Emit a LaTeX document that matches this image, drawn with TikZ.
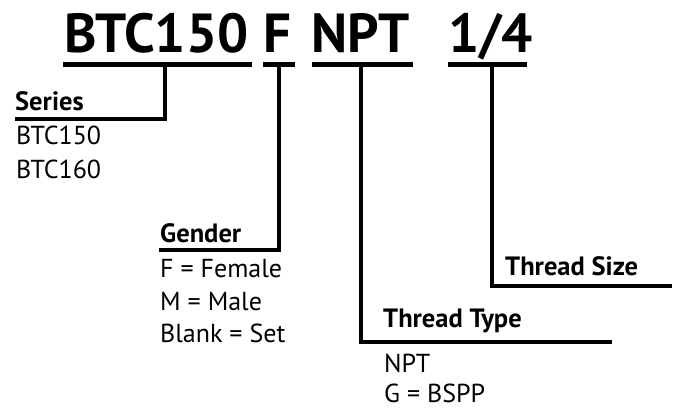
\documentclass[tikz,border=0pt]{standalone}
\usepackage{fontspec}
\setmainfont{PT Sans}
\usetikzlibrary{positioning}

\begin{document}
\begin{tikzpicture}[
        x=1pt, y=-1pt,
        code/.style={font=\fontsize{55}{55}\selectfont\bfseries, inner sep=0pt, anchor=base west},
        head/.style={font=\fontsize{26.5}{26.5}\selectfont\bfseries, inner sep=0pt, anchor=base west},
        choice/.style={font=\fontsize{26}{26}\selectfont, inner sep=0pt, anchor=base west},
        bar/.style={line width=4.5pt},
        lead/.style={line width=4.2pt}
    ]
        \useasboundingbox (0,0) rectangle (678,409);

        % the part number
        \node[code] (btc) at (64,53) {BTC150};
        \node[code] (fem) at (263,53) {F};
        \node[code] (npt) at (311,53) {NPT};
        \node[code] (qtr) at (448,53) {1/4};

        \draw[bar] (63,64.5) -- (252,64.5);
        \draw[bar] (263,64.5) -- (295,64.5);
        \draw[bar] (312,64.5) -- (413,64.5);
        \draw[bar] (448,64.5) -- (527,64.5);

        % taps on the bars and free ends of the rules
        \coordinate (t1) at (165,64.5);
        \coordinate (t2) at (279,64.5);
        \coordinate (t3) at (361,64.5);
        \coordinate (t4) at (492,64.5);
        \coordinate (r1) at (15,119);
        \coordinate (r2) at (159,250);
        \coordinate (r3) at (612,342);
        \coordinate (r4) at (672,286);

        % headings and choices
        \node[head] (series) at (15,111) {Series};
        \node[choice] (s1) at (16,145) {BTC150};
        \node[choice] (s2) at (16,179) {BTC160};

        \node[head] (gender) at (160,242) {Gender};
        \node[choice] (g1) at (160,277) {F = Female};
        \node[choice] (g2) at (160,310) {M = Male};
        \node[choice] (g3) at (160,342) {Blank = Set};

        \node[head] (ttype) at (383,327) {Thread Type};
        \node[choice] (p1) at (384,372) {NPT};
        \node[choice] (p2) at (384,402) {G = BSPP};

        \node[head] (tsize) at (505,275) {Thread Size};

        \draw[lead] (t1) |- (r1);
        \draw[lead] (t2) |- (r2);
        \draw[lead] (t3) |- (r3);
        \draw[lead] (t4) |- (r4);
    \end{tikzpicture}
\end{document}
